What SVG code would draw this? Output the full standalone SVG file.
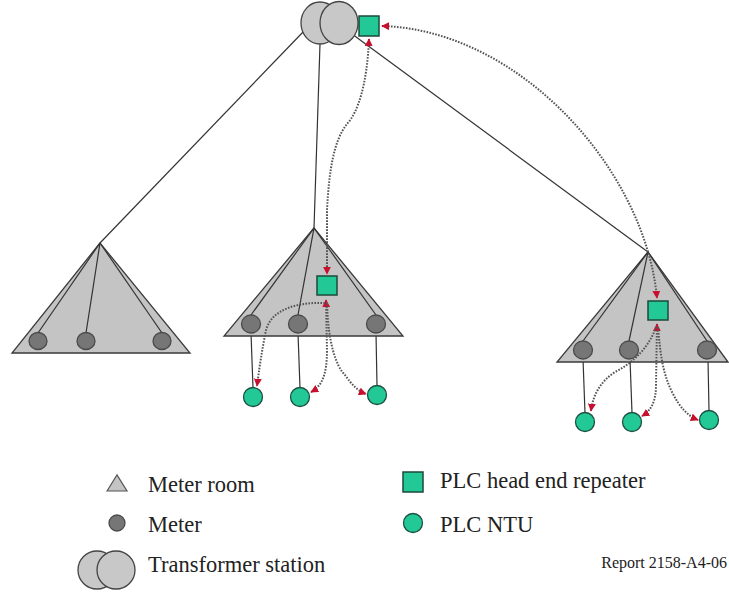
<svg xmlns="http://www.w3.org/2000/svg" width="729" height="596" viewBox="0 0 729 596">
<defs>
<style>
.room{fill:#c4c4c4;stroke:#3a3a3a;stroke-width:1.3}
.meter{fill:#767676;stroke:#4a4a4a;stroke-width:1.3}
.ntu{fill:#22c997;stroke:#1d5040;stroke-width:1.3}
.rep{fill:#22c997;stroke:#1d4a3a;stroke-width:1.5}
.tr{fill:#c8c8c8;stroke:#444;stroke-width:1.3}
.wire{stroke:#333;stroke-width:1.2;fill:none}
.dot{stroke:#555;stroke-width:2;stroke-dasharray:1.6 1.4;fill:none}
.lbl{font-family:'Liberation Serif','Times New Roman',Times,Tinos,'Noto Serif','DejaVu Serif',FreeSerif,serif;font-size:22.5px;fill:#222}
.ref{font-family:'Liberation Serif','Times New Roman',Times,Tinos,'Noto Serif','DejaVu Serif',FreeSerif,serif;font-size:16px;fill:#222}
</style>
<marker id="ah" viewBox="0 0 10 10" refX="9" refY="5" markerWidth="8" markerHeight="8" markerUnits="userSpaceOnUse" orient="auto-start-reverse">
<path d="M0,0 L10,5 L0,10 z" fill="#c8102e"/>
</marker>
</defs>

<g id="connectors">
<line class="wire" x1="304" y1="31" x2="100" y2="243"/>
<line class="wire" x1="320" y1="44" x2="314" y2="228"/>
<line class="wire" x1="352" y1="34" x2="648" y2="252"/>
<line class="wire" x1="251" y1="333" x2="253" y2="388"/>
<line class="wire" x1="298" y1="333" x2="300" y2="388"/>
<line class="wire" x1="376" y1="333" x2="377" y2="386"/>
<line class="wire" x1="583" y1="359" x2="585" y2="413"/>
<line class="wire" x1="630" y1="359" x2="632" y2="413"/>
<line class="wire" x1="708" y1="359" x2="709" y2="411"/>
</g>

<g id="room-left">
<polygon class="room" points="100,243 12,353 190,353"/>
<line class="wire" x1="100" y1="243" x2="38" y2="333"/>
<line class="wire" x1="100" y1="243" x2="86" y2="333"/>
<line class="wire" x1="100" y1="243" x2="162" y2="333"/>
<ellipse class="meter" cx="38" cy="341" rx="9" ry="8.5"/>
<ellipse class="meter" cx="86" cy="341" rx="9" ry="8.5"/>
<ellipse class="meter" cx="162" cy="341" rx="9" ry="8.5"/>
</g>

<g id="room-middle">
<polygon class="room" points="314,228 224,336 403,336"/>
<line class="wire" x1="314" y1="228" x2="251" y2="315"/>
<line class="wire" x1="314" y1="228" x2="298" y2="315"/>
<line class="wire" x1="314" y1="228" x2="376" y2="315"/>
<ellipse class="meter" cx="251" cy="324" rx="9.5" ry="9"/>
<ellipse class="meter" cx="298" cy="324" rx="9.5" ry="9"/>
<ellipse class="meter" cx="376" cy="324" rx="9.5" ry="9"/>
<rect class="rep" x="317" y="276" width="20" height="19"/>
<circle class="ntu" cx="253" cy="397" r="9.5"/>
<circle class="ntu" cx="300" cy="397" r="9.5"/>
<circle class="ntu" cx="377" cy="395" r="9.5"/>
</g>

<g id="room-right">
<polygon class="room" points="648,252 557,362 728,362"/>
<line class="wire" x1="648" y1="252" x2="583" y2="341"/>
<line class="wire" x1="648" y1="252" x2="629" y2="341"/>
<line class="wire" x1="648" y1="252" x2="707" y2="341"/>
<ellipse class="meter" cx="583" cy="350" rx="9.5" ry="9"/>
<ellipse class="meter" cx="629" cy="350" rx="9.5" ry="9"/>
<ellipse class="meter" cx="707" cy="350" rx="9.5" ry="9"/>
<rect class="rep" x="648" y="301" width="20" height="19"/>
<circle class="ntu" cx="585" cy="422" r="9.5"/>
<circle class="ntu" cx="632" cy="422" r="9.5"/>
<circle class="ntu" cx="709" cy="420" r="9.5"/>
</g>

<g id="transformer">
<ellipse class="tr" cx="320" cy="23" rx="19" ry="21"/>
<ellipse class="tr" cx="339" cy="23" rx="19" ry="21.5"/>
<rect class="rep" x="359" y="16" width="20" height="20"/>
</g>

<g id="plc-links">
<path class="dot" d="M369,39 C367,85 358,112 347,124 C334,140 329,170 327,210 L327,274" marker-start="url(#ah)" marker-end="url(#ah)"/>
<path class="dot" d="M382,26 C520,30 645,170 657,298" marker-start="url(#ah)" marker-end="url(#ah)"/>
<path class="dot" d="M326,300 L327,350 C327,375 322,386 311,392" marker-start="url(#ah)" marker-end="url(#ah)"/>
<path class="dot" d="M325,303 C300,302 272,308 266,330 C262,350 259,370 257,386" marker-end="url(#ah)"/>
<path class="dot" d="M327,303 C328,340 335,365 345,375 C352,385 358,391 366,394" marker-end="url(#ah)"/>
<path class="dot" d="M657,324 L656,385 C656,400 652,410 642,416" marker-start="url(#ah)" marker-end="url(#ah)"/>
<path class="dot" d="M656,327 C650,345 635,362 615,372 C600,382 593,395 591,411" marker-end="url(#ah)"/>
<path class="dot" d="M658,327 C660,350 662,372 672,392 C680,408 688,416 698,420" marker-end="url(#ah)"/>
</g>

<g id="legend">
<polygon points="107,491 117,475 127,491" fill="#c4c4c4" stroke="#555" stroke-width="1.2"/>
<text class="lbl" x="148" y="492">Meter room</text>
<circle class="meter" cx="117" cy="523" r="8"/>
<text class="lbl" x="148" y="532">Meter</text>
<ellipse class="tr" cx="97" cy="570" rx="19" ry="19"/>
<ellipse class="tr" cx="116" cy="570" rx="19" ry="19"/>
<text class="lbl" x="148" y="572">Transformer station</text>
<rect class="rep" x="403" y="472" width="20" height="20"/>
<text class="lbl" x="440" y="488">PLC head end repeater</text>
<circle class="ntu" cx="413" cy="523" r="9.5"/>
<text class="lbl" x="440" y="532">PLC NTU</text>
<text class="ref" x="727" y="568" text-anchor="end">Report 2158-A4-06</text>
</g>
</svg>
